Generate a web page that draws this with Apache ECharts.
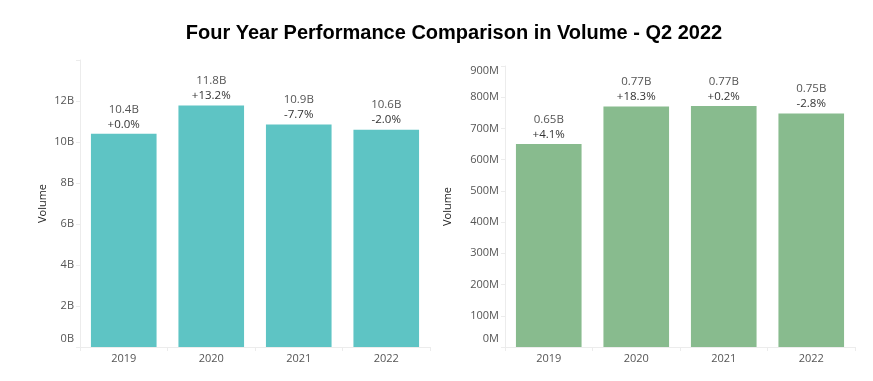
<!DOCTYPE html>
<html><head><meta charset="utf-8">
<script src="https://cdn.jsdelivr.net/npm/echarts@6/dist/echarts.min.js"></script>
<style>html,body{margin:0;padding:0;background:#fff}#c{width:873px;height:381px}</style>
</head><body><div id="c"></div>
<script>
const categories = ['2019', '2020', '2021', '2022'];
const leftValues = [10.4, 11.78, 10.85, 10.6];          // billions
const leftValueLabels = ['10.4B', '11.8B', '10.9B', '10.6B'];
const leftPctLabels = ['+0.0%', '+13.2%', '-7.7%', '-2.0%'];
const rightValues = [650, 770, 772, 748];               // millions
const rightValueLabels = ['0.65B', '0.77B', '0.77B', '0.75B'];
const rightPctLabels = ['+4.1%', '+18.3%', '+0.2%', '-2.8%'];
const leftTicks = ['0B', '2B', '4B', '6B', '8B', '10B', '12B'];
const rightTicks = ['0M','100M','200M','300M','400M','500M','600M','700M','800M','900M'];

const FONT = 'Open Sans';
const faint = '#ececec';
const chart = echarts.init(document.getElementById('c'));

function xAx(gi) {
  return {
    type: 'category', gridIndex: gi, data: categories,
    axisLine: { lineStyle: { color: faint } },
    axisTick: { show: true, alignWithLabel: false, lineStyle: { color: faint }, length: 4 },
    axisLabel: { color: '#555', fontSize: 11, fontFamily: FONT, margin: 6 }
  };
}
function yAx(gi, max, interval, ticks, unitStep, edgeRich) {
  return {
    type: 'value', gridIndex: gi, min: 0, max: max, interval: interval,
    name: 'Volume', nameLocation: 'middle', nameRotate: 90,
    nameTextStyle: { color: '#222', fontSize: 11, fontFamily: FONT },
    nameGap: gi === 0 ? 32 : 52,
    splitLine: { show: false },
    axisLine: { show: true, lineStyle: { color: faint } },
    axisTick: { show: true, length: 4, lineStyle: { color: faint } },
    axisLabel: {
      color: '#555', fontSize: 11, fontFamily: FONT, margin: 6,
      formatter: function (v) {
        const i = Math.round(v / unitStep);
        const t = ticks[i];
        if (t === undefined) return '';
        if (i === 0) return '{lo|' + t + '}';
        if (i === ticks.length - 1 && edgeRich) return '{hi|' + t + '}';
        return t;
      },
      rich: {
        lo: { color: '#555', fontSize: 11, fontFamily: FONT, padding: [0, 0, 16, 0] },
        hi: { color: '#555', fontSize: 11, fontFamily: FONT, padding: [10, 0, 0, 0] }
      }
    }
  };
}
function labelFmt(valLabels, pctLabels) {
  return function (p) { return '{v|' + valLabels[p.dataIndex] + '}\n{p|' + pctLabels[p.dataIndex] + '}'; };
}
const labelRich = {
  v: { color: '#555', fontSize: 11.5, fontFamily: FONT, lineHeight: 15 },
  p: { color: '#333', fontSize: 11.5, fontFamily: FONT, lineHeight: 15 }
};

chart.setOption({
  animation: false,
  title: {
    text: 'Four Year Performance Comparison in Volume - Q2 2022',
    left: 449, top: 18, textAlign: 'center',
    textStyle: { fontFamily: 'Liberation Sans', fontWeight: 'bold', fontSize: 20, color: '#000' }
  },
  grid: [
    { left: 80, top: 60, width: 350, height: 287 },
    { left: 505, top: 66, width: 350, height: 281 }
  ],
  xAxis: [xAx(0), xAx(1)],
  yAxis: [
    yAx(0, 14, 2, leftTicks, 2, false),
    yAx(1, 900, 100, rightTicks, 100, true)
  ],
  series: [
    {
      type: 'bar', xAxisIndex: 0, yAxisIndex: 0, data: leftValues, barWidth: '75%',
      itemStyle: { color: '#5ec4c4' },
      label: { show: true, position: 'top', distance: 2, formatter: labelFmt(leftValueLabels, leftPctLabels), rich: labelRich }
    },
    {
      type: 'bar', xAxisIndex: 1, yAxisIndex: 1, data: rightValues, barWidth: '75%',
      itemStyle: { color: '#88bb8e' },
      label: { show: true, position: 'top', distance: 2, formatter: labelFmt(rightValueLabels, rightPctLabels), rich: labelRich }
    }
  ]
});
</script></body></html>
